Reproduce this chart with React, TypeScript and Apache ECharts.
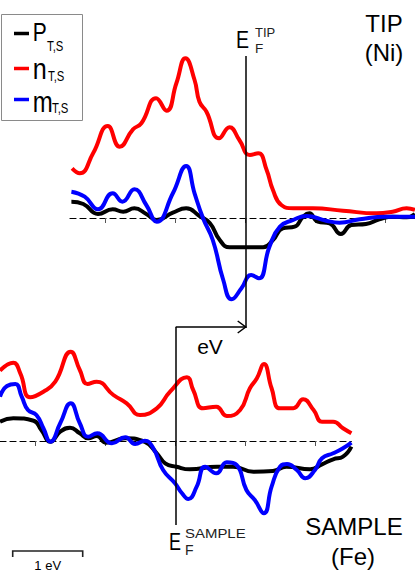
import React, { useEffect, useRef } from "react";
import * as echarts from "echarts";

// Energy (eV, relative to each Fermi level) vs. value (a.u.)
const tipP: number[][] = [
  [-2.49, 1.63], [-2.32, 1.4], [-2.11, 0.4], [-1.9, 0.87], [-1.75, 0.63], [-1.59, 0.97], [-1.42, 0.4],
  [-1.27, -0.2], [-1.04, 0.53], [-0.85, 0.97], [-0.66, 0.2], [-0.51, -0.53], [-0.37, -2.2], [-0.23, -2.93],
  [0.01, -2.93], [0.25, -2.93], [0.39, -2.2], [0.53, -1.03], [0.7, -0.87], [0.82, 0.13], [0.91, 0.47],
  [1.03, -0.37], [1.2, -0.53], [1.36, -1.6], [1.51, -0.7], [1.72, -0.6], [1.91, -0.13], [2.1, 0.13],
  [2.3, 0.07], [2.42, 0.4],
];
const tipN: number[][] = [
  [-2.48, 4.97], [-2.37, 4.47], [-2.18, 6.47], [-1.97, 9.2], [-1.8, 7.13], [-1.61, 8.87], [-1.49, 9.47],
  [-1.28, 11.97], [-1.13, 10.73], [-0.99, 13.47], [-0.86, 15.97], [-0.73, 13.8], [-0.66, 11.63],
  [-0.56, 10.63], [-0.38, 7.97], [-0.23, 9.07], [-0.09, 7.8], [0.06, 6.3], [0.18, 6.47], [0.3, 4.8],
  [0.39, 2.8], [0.51, 1.3], [0.68, 0.97], [0.96, 0.97], [1.39, 0.73], [1.87, 0.47], [2.1, 0.63],
  [2.3, 0.97], [2.42, 0.8],
];
const tipM: number[][] = [
  [-2.49, 2.63], [-2.3, 2.13], [-2.11, 0.87], [-1.9, 2.47], [-1.76, 1.63], [-1.59, 2.87], [-1.42, 1.3],
  [-1.27, -0.37], [-1.04, 2.47], [-0.85, 5.2], [-0.73, 2.47], [-0.61, 0], [-0.47, -2.2], [-0.32, -6.2],
  [-0.2, -8.13], [-0.06, -7.03], [0.08, -5.7], [0.19, -6.03], [0.34, -2.87], [0.49, -0.87], [0.68, -0.2],
  [0.87, 0.2], [1.15, -0.27], [1.34, -0.47], [1.63, -0.13], [2.01, 0.13], [2.42, 0.13],
];
const sampleP: number[][] = [
  [-2.51, 1.93], [-2.32, 2.27], [-2.03, 2.03], [-1.92, 1.1], [-1.79, -0.07], [-1.65, 0.93], [-1.51, 1.33],
  [-1.37, 0.77], [-1.25, 0.27], [-1.13, 0.5], [-0.99, -0.17], [-0.72, 0.27], [-0.44, -0.1], [-0.27, -1.23],
  [-0.15, -2.23], [0.01, -2.57], [0.2, -2.83], [0.59, -2.57], [0.82, -2.57], [1.11, -3.07], [1.39, -3.0],
  [1.58, -2.57], [1.92, -2.83], [2.09, -2.33], [2.25, -1.83], [2.39, -1.57], [2.51, -0.57],
];
const sampleN: number[][] = [
  [-2.51, 7.03], [-2.32, 7.83], [-2.22, 6.77], [-2.08, 4.37], [-1.89, 4.93], [-1.72, 5.93], [-1.5, 8.93],
  [-1.37, 7.1], [-1.26, 5.7], [-1.13, 5.93], [-0.89, 4.6], [-0.7, 3.77], [-0.51, 2.6], [-0.27, 3.27],
  [-0.08, 4.93], [0.16, 6.37], [0.25, 5.1], [0.39, 3.27], [0.58, 3.43], [0.73, 2.5], [0.92, 3.1],
  [1.06, 5.27], [1.16, 6.27], [1.26, 7.7], [1.37, 5.27], [1.49, 3.27], [1.68, 3.27], [1.82, 4.17],
  [1.97, 3.1], [2.09, 1.93], [2.25, 1.93], [2.39, 1.27], [2.51, 0.77],
];
const sampleM: number[][] = [
  [-2.51, 4.43], [-2.41, 5.5], [-2.29, 5.7], [-2.2, 4.43], [-2.11, 3.1], [-1.99, 2.6], [-1.89, 1.27],
  [-1.79, -0.07], [-1.65, 1.77], [-1.5, 3.77], [-1.37, 1.77], [-1.25, 0.43], [-1.12, 0.77], [-0.91, -0.23],
  [-0.72, 0.37], [-0.58, -0.3], [-0.44, 0.03], [-0.32, -0.73], [-0.18, -2.9], [-0.01, -4.23], [0.09, -5.23],
  [0.18, -5.8], [0.3, -4.57], [0.42, -2.57], [0.58, -3.23], [0.73, -2.13], [0.87, -2.4], [1.01, -4.9],
  [1.13, -5.9], [1.26, -7.23], [1.37, -4.57], [1.49, -2.57], [1.59, -2.3], [1.73, -2.9], [1.85, -3.73],
  [1.99, -2.9], [2.09, -1.73], [2.25, -1.23], [2.39, -0.73], [2.51, -0.17],
];

const xTicks = [-2, -1, 0, 1, 2];
const tipXRange = [-2.51, 2.42];
const sampleXRange = [-2.51, 2.51];
const tipYRange = [-11, 16.2];
const sampleYRange = [-8.4, 11.4];

const seriesNames = ["P", "n", "m"];
const seriesColors = ["#000000", "#ff0000", "#0000ff"];

const FONT = '"Liberation Sans", Arial, sans-serif';

export default function App() {
  const ref = useRef<HTMLDivElement>(null);
  useEffect(() => {
    document.body.style.margin = "0";
    const chart = echarts.init(ref.current!, null, { renderer: "svg" });

    const xAxis = (idx: number, range: number[]) => ({
      type: "value",
      gridIndex: idx,
      min: range[0],
      max: range[1],
      axisLine: { show: true, onZero: true, lineStyle: { color: "#000", width: 1.2, type: [6, 4] } },
      axisTick: { show: true, inside: false, length: 5, customValues: xTicks, lineStyle: { color: "#555", width: 1 } },
      axisLabel: { show: false },
      splitLine: { show: false },
    });
    const yAxis = (idx: number, range: number[]) => ({
      type: "value",
      gridIndex: idx,
      min: range[0],
      max: range[1],
      show: false,
      splitLine: { show: false },
    });
    const fermiLine = {
      silent: true,
      symbol: ["none", "none"],
      label: { show: false },
      lineStyle: { color: "#000", width: 1.5, type: "solid" },
      emphasis: { disabled: true },
      data: [{ xAxis: 0 }],
    };
    const mk = (name: string, color: string, data: number[][], gi: number, withMark: boolean) => ({
      type: "line",
      name,
      xAxisIndex: gi,
      yAxisIndex: gi,
      data,
      smooth: 0.5,
      showSymbol: false,
      symbol: "none",
      lineStyle: { color, width: 4 },
      itemStyle: { color },
      emphasis: { disabled: true },
      markLine: withMark ? fermiLine : undefined,
    });

    chart.setOption({
      animation: false,
      grid: [
        { left: 70, top: 56, width: 345, height: 272 },
        { left: 0, top: 327, width: 351.4, height: 198 },
      ],
      xAxis: [xAxis(0, tipXRange), xAxis(1, sampleXRange)],
      yAxis: [yAxis(0, tipYRange), yAxis(1, sampleYRange)],
      series: [
        mk(seriesNames[0], seriesColors[0], tipP, 0, true),
        mk(seriesNames[1], seriesColors[1], tipN, 0, false),
        mk(seriesNames[2], seriesColors[2], tipM, 0, false),
        mk(seriesNames[0], seriesColors[0], sampleP, 1, true),
        mk(seriesNames[1], seriesColors[1], sampleN, 1, false),
        mk(seriesNames[2], seriesColors[2], sampleM, 1, false),
      ],
    });

    const toPx = (g: number, p: number[]) => chart.convertToPixel({ gridIndex: g } as any, p) as number[];
    const a0 = toPx(1, [0, sampleYRange[1]]);
    const a1 = toPx(1, [1, sampleYRange[1]]);
    const unit = toPx(1, [1, 0])[0] - toPx(1, [0, 0])[0];

    const txt = (text: string, x: number, y: number, size: number, align = "left", scaleX = 1, fill = "#000") => ({
      type: "text",
      x,
      y,
      scaleX,
      silent: true,
      style: {
        text,
        fill,
        fontSize: size,
        fontFamily: FONT,
        align,
        verticalAlign: "middle",
        textAlign: align,
        textVerticalAlign: "middle",
      },
    });

    const legendY = [33.5, 68.5, 99.5];
    const legendGlyph = [
      { text: "P", size: 25, y: 32.5, sx: 0.84, subX: 47, subY: 45.5 },
      { text: "n", size: 30, y: 69, sx: 0.84, subX: 48, subY: 76 },
      { text: "m", size: 30, y: 102, sx: 0.8, subX: 52, subY: 107.5 },
    ];
    const legendEls: any[] = [
      {
        type: "rect",
        shape: { x: 1.5, y: 14.5, width: 81, height: 106 },
        style: { fill: "#fff", stroke: "#8a8a8a", lineWidth: 1 },
        silent: true,
      },
    ];
    legendGlyph.forEach((g, i) => {
      legendEls.push({
        type: "line",
        shape: { x1: 14, y1: legendY[i], x2: 29, y2: legendY[i] },
        style: { stroke: seriesColors[i], lineWidth: 3.5 },
        silent: true,
      });
      legendEls.push(txt(g.text, 32.7, g.y, g.size, "left", g.sx));
      legendEls.push(txt("T,S", g.subX, g.subY, 14.5, "left", 0.78));
    });

    chart.setOption({
      graphic: [
        ...legendEls,
        // arrow eV
        {
          type: "line",
          shape: { x1: a0[0], y1: a0[1], x2: a1[0], y2: a1[1] },
          style: { stroke: "#000", lineWidth: 1.5 },
          silent: true,
        },
        {
          type: "polyline",
          shape: { points: [[a1[0] - 8, a1[1] - 6], [a1[0], a1[1]], [a1[0] - 8, a1[1] + 6]] },
          style: { stroke: "#000", lineWidth: 1.5, fill: "none" },
          silent: true,
        },
        txt("eV", 210, 346, 21, "center"),
        // Fermi labels
        txt("E", 236, 40, 23, "left", 0.85),
        txt("TIP", 255, 32.5, 13, "left", 1, "#222"),
        txt("F", 255, 48, 13.5, "left", 1, "#222"),
        txt("E", 169, 541.5, 24, "left", 0.75),
        txt("SAMPLE", 185, 533.5, 13, "left", 1.15, "#222"),
        txt("F", 185, 549.5, 14, "left", 1, "#222"),
        // panel titles
        txt("TIP", 384, 23.5, 24, "center"),
        txt("(Ni)", 384, 52, 24, "center"),
        txt("SAMPLE", 354, 526, 24, "center"),
        txt("(Fe)", 353, 556, 24, "center"),
        // scale bar
        {
          type: "polyline",
          shape: { points: [[12.7, 557], [12.7, 551], [12.7 + unit, 551], [12.7 + unit, 557]] },
          style: { stroke: "#222", lineWidth: 1.6, fill: "none" },
          silent: true,
        },
        txt("1 eV", 12.7 + unit / 2, 565.5, 13, "center"),
      ],
    });

    return () => chart.dispose();
  }, []);
  return <div ref={ref} style={{ width: 415, height: 581 }} />;
}
